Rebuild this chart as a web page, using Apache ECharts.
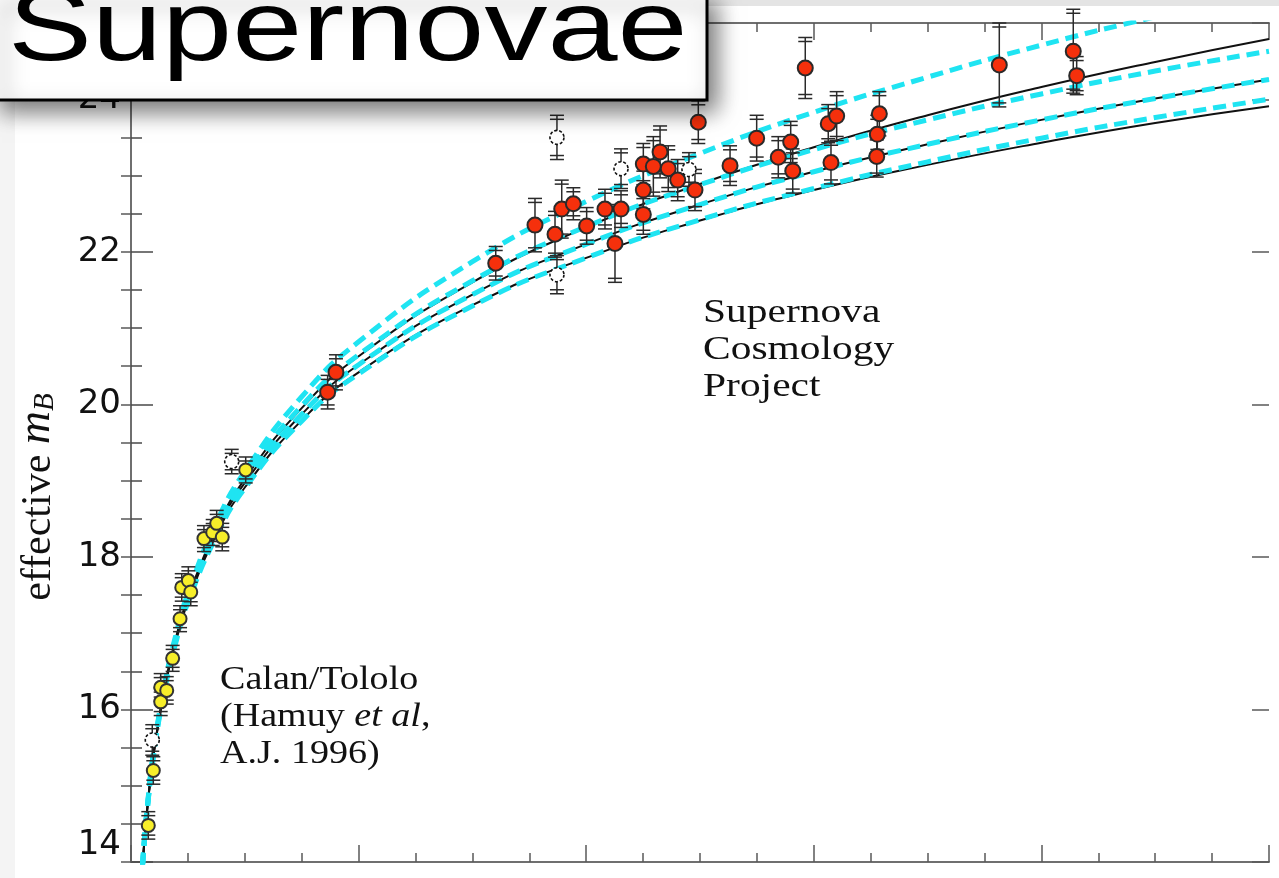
<!DOCTYPE html>
<html>
<head>
<meta charset="utf-8">
<script src="https://cdn.jsdelivr.net/npm/echarts@6/dist/echarts.min.js"></script>
<style>
  html, body { margin: 0; padding: 0; background: #fff; }
  #chart { width: 1279px; height: 878px; }
</style>
</head>
<body>
<div id="chart"></div>
<script>
// Hubble diagram: effective B magnitude against redshift z.

// Calan/Tololo low-redshift supernovae (used in fit)
const ctZ   = [0.0152, 0.0196, 0.0261, 0.0261, 0.0314, 0.0366, 0.0431, 0.0446, 0.0504, 0.0525, 0.0641, 0.0718, 0.0753, 0.0802, 0.1008];
const ctM   = [14.48, 15.20, 16.10, 16.29, 16.25, 16.67, 17.19, 17.60, 17.69, 17.54, 18.24, 18.32, 18.44, 18.26, 19.14];
const ctErr = [0.18, 0.18, 0.18, 0.18, 0.18, 0.17, 0.17, 0.18, 0.18, 0.18, 0.17, 0.17, 0.17, 0.18, 0.17];

// Calan/Tololo supernovae excluded from the fit (open symbols)
const ctOutZ   = [0.0187, 0.0885];
const ctOutM   = [15.60, 19.25];
const ctOutErr = [0.20, 0.16];

// Supernova Cosmology Project high-redshift supernovae
const scpZ = [0.1728, 0.1801, 0.3205, 0.3550, 0.3726, 0.3785, 0.3887, 0.4004, 0.4165, 0.4306,
              0.4253, 0.4502, 0.4502, 0.4502, 0.4590, 0.4649, 0.4721, 0.4804, 0.4956, 0.4985,
              0.5264, 0.5498, 0.5688, 0.5797, 0.5815, 0.5925, 0.6127, 0.6201, 0.6151, 0.6576,
              0.6558, 0.6553, 0.7630, 0.8280, 0.8310];
const scpM = [20.16, 20.42, 21.85, 22.35, 22.23, 22.56, 22.63, 22.34, 22.56, 22.56,
              22.11, 22.49, 22.81, 23.15, 23.12, 23.31, 23.09, 22.94, 22.81, 23.70,
              23.13, 23.49, 23.24, 23.44, 23.06, 24.41, 23.68, 23.78, 23.17, 23.81,
              23.54, 23.25, 24.45, 24.63, 24.31];
const scpErr = [0.22, 0.23, 0.22, 0.35, 0.30, 0.38, 0.21, 0.24, 0.26, 0.24,
                0.51, 0.26, 0.30, 0.27, 0.39, 0.34, 0.30, 0.27, 0.27, 0.28,
                0.26, 0.30, 0.27, 0.27, 0.29, 0.40, 0.25, 0.32, 0.28, 0.29,
                0.25, 0.27, 0.55, 0.55, 0.25];

// SCP supernovae excluded from the fit (open symbols)
const scpOutZ   = [0.3743, 0.3743, 0.4306, 0.4903];
const scpOutM   = [23.50, 21.70, 23.09, 23.08];
const scpOutErr = [0.29, 0.25, 0.26, 0.22];

// Model magnitude curves sampled in redshift
const curveZ = [0.009, 0.011, 0.014, 0.02, 0.03, 0.04, 0.05, 0.075, 0.1, 0.15, 0.2, 0.3, 0.4, 0.5, 0.6, 0.7, 0.8, 0.9, 1.0];
// Lambda = 0 models (black solid): (OmegaM, OmegaL) = (0,0), (1,0), (2,0)
const mOpen00   = [13.69, 14.13, 14.66, 15.44, 16.33, 16.97, 17.46, 18.37, 19.02, 19.95, 20.63, 21.60, 22.32, 22.89, 23.37, 23.79, 24.16, 24.49, 24.79];
const mFlat10   = [13.69, 14.13, 14.65, 15.43, 16.32, 16.95, 17.44, 18.33, 18.97, 19.87, 20.52, 21.44, 22.10, 22.62, 23.05, 23.41, 23.73, 24.01, 24.26];
const mClosed20 = [13.69, 14.12, 14.65, 15.42, 16.30, 16.92, 17.41, 18.29, 18.91, 19.79, 20.42, 21.30, 21.92, 22.41, 22.81, 23.14, 23.43, 23.69, 23.91];
// Flat models (cyan dashed): (0,1), (0.5,0.5), (1,0), (1.5,-0.5)
const mFlat01   = [13.69, 14.15, 14.68, 15.46, 16.36, 17.01, 17.52, 18.45, 19.12, 20.10, 20.82, 21.87, 22.66, 23.29, 23.83, 24.29, 24.71, 25.08, 25.42];
const mFlat55   = [13.69, 14.14, 14.66, 15.45, 16.34, 16.98, 17.48, 18.39, 19.04, 19.98, 20.65, 21.62, 22.33, 22.88, 23.34, 23.73, 24.07, 24.37, 24.63];
const mFlat15   = [13.69, 14.12, 14.64, 15.41, 16.29, 16.91, 17.40, 18.27, 18.90, 19.78, 20.40, 21.29, 21.92, 22.42, 22.83, 23.18, 23.49, 23.76, 24.00];

// Axis ticks
const yMin = 14, yMax = 25, yStep = 2;
const xMin = 0, xMax = 1, xStep = 0.2;

const zip = (xs, ys) => xs.map((x, i) => [x, ys[i]]);
const zip3 = (xs, ys, es) => xs.map((x, i) => [x, ys[i], es[i]]);

const CYAN = '#1fe4f2';
const serif = '"Liberation Serif", "DejaVu Serif", serif';
const sans = '"Liberation Sans", Arial, sans-serif';

function errorBars(params, api) {
  const z = api.value(0), m = api.value(1), e = api.value(2);
  const c = api.coord([z, m]);
  const yt = api.coord([z, m + e])[1];
  const yb = api.coord([z, m - e])[1];
  const hw = 7, gap = 4;
  const st = { stroke: '#2a2a2a', lineWidth: 1.5 };
  const cap = (y) => ({ type: 'line', shape: { x1: c[0] - hw, y1: y, x2: c[0] + hw, y2: y }, style: st });
  return {
    type: 'group',
    children: [
      { type: 'line', shape: { x1: c[0], y1: yt, x2: c[0], y2: yb }, style: st },
      cap(yt), cap(yt + gap), cap(yb), cap(yb - gap)
    ]
  };
}

function errSeries(data) {
  return {
    type: 'custom', renderItem: errorBars, data: data, z: 4, silent: true,
    encode: { x: 0, y: 1 }, clip: false
  };
}

function curve(ms, color, width, dashed, z) {
  return {
    type: 'line', data: zip(curveZ, ms), showSymbol: false, symbol: 'none',
    smooth: 0.5, z: z, silent: true,
    lineStyle: { color: color, width: width, type: dashed ? [13, 7] : 'solid', cap: 'butt' }
  };
}

function xAxisDef(position) {
  return {
    type: 'value', position: position, min: xMin, max: xMax, interval: xStep,
    axisLine: { show: true, onZero: false, lineStyle: { color: '#6f6f6f', width: 2 } },
    axisTick: { show: true, inside: true, length: 17, lineStyle: { color: '#5a5a5a', width: 1.5 } },
    minorTick: { show: true, splitNumber: 4, length: 9, lineStyle: { color: '#5a5a5a', width: 1.5 } },
    axisLabel: { show: false },
    splitLine: { show: false }
  };
}

const chart = echarts.init(document.getElementById('chart'), null, { renderer: 'canvas' });

chart.setOption({
  animation: false,
  backgroundColor: '#ffffff',
  grid: { left: 131, right: 10, top: 23, bottom: 16, containLabel: false },
  xAxis: [xAxisDef('bottom'), xAxisDef('top')],
  yAxis: [
    {
      type: 'value', position: 'left', min: yMin, max: yMax, interval: yStep,
      axisLine: { show: true, lineStyle: { color: '#3c3c3c', width: 2 } },
      axisTick: { show: true, inside: true, length: 22, lineStyle: { color: '#4a4a4a', width: 1.5 } },
      minorTick: { show: true, splitNumber: 4, length: 11, lineStyle: { color: '#4a4a4a', width: 1.5 } },
      axisLabel: {
        show: true, margin: 10, fontSize: 34, color: '#111',
        fontFamily: '"DejaVu Sans", sans-serif',
        verticalAlignMinLabel: 'bottom',
        formatter: (v) => (v % 2 === 0 ? String(v) : '')
      },
      splitLine: { show: false }
    },
    {
      type: 'value', position: 'right', min: yMin, max: yMax, interval: 0.5,
      axisLine: { show: true, lineStyle: { color: '#6f6f6f', width: 2 } },
      axisTick: { show: true, inside: true, length: 10, lineStyle: { color: '#5a5a5a', width: 1.5 } },
      axisLabel: { show: false }, splitLine: { show: false }
    },
    {
      type: 'value', position: 'right', min: yMin, max: yMax, interval: yStep,
      axisLine: { show: false },
      axisTick: { show: true, inside: true, length: 17, lineStyle: { color: '#5a5a5a', width: 1.5 } },
      axisLabel: { show: false }, splitLine: { show: false }
    }
  ],
  series: [
    // Lambda = 0 models, black, beneath the flat models
    curve(mOpen00, '#111', 2, false, 2),
    curve(mFlat10, '#111', 2, false, 2),
    curve(mClosed20, '#111', 2, false, 2),
    // flat models, cyan dashed
    curve(mFlat01, CYAN, 5, true, 3),
    curve(mFlat55, CYAN, 5, true, 3),
    curve(mFlat10, CYAN, 5, true, 3),
    curve(mFlat15, CYAN, 5, true, 3),
    // error bars
    errSeries(zip3(ctZ, ctM, ctErr)),
    errSeries(zip3(ctOutZ, ctOutM, ctOutErr)),
    errSeries(zip3(scpZ, scpM, scpErr)),
    errSeries(zip3(scpOutZ, scpOutM, scpOutErr)),
    // points
    {
      type: 'scatter', data: zip(ctZ, ctM), symbolSize: 13, z: 5, silent: true,
      itemStyle: { color: '#f7ee2a', borderColor: '#333', borderWidth: 2, opacity: 1 }
    },
    {
      type: 'scatter', data: zip(scpZ, scpM), symbolSize: 15, z: 5, silent: true,
      itemStyle: { color: '#f5300c', borderColor: '#2a2a2a', borderWidth: 2, opacity: 1 }
    },
    {
      type: 'scatter', data: zip(ctOutZ, ctOutM).concat(zip(scpOutZ, scpOutM)), symbolSize: 14, z: 5, silent: true,
      itemStyle: { color: '#ffffff', borderColor: '#111', borderWidth: 1.6, borderType: [3, 2], opacity: 1 }
    }
  ],
  graphic: [
    // frame edges
    { type: 'rect', x: 0, y: 0, shape: { width: 1279, height: 6 }, style: { fill: '#e4e4e4' }, z: 1 },
    { type: 'rect', x: 0, y: 100, shape: { width: 15, height: 778 }, style: { fill: '#f4f4f4' }, z: 1 },
    // axis title
    {
      type: 'text', x: 36, y: 497, rotation: Math.PI / 2, z: 10,
      style: {
        text: '{a|effective }{m|m}{b|B}',
        align: 'center', verticalAlign: 'middle',
        fill: '#111',
        rich: {
          a: { fontFamily: serif, fontSize: 42, fill: '#111', verticalAlign: 'bottom', lineHeight: 48 },
          m: { fontFamily: serif, fontSize: 46, fontStyle: 'italic', fill: '#111', verticalAlign: 'bottom', lineHeight: 48 },
          b: { fontFamily: serif, fontSize: 29, fontStyle: 'italic', fill: '#111', verticalAlign: 'bottom', lineHeight: 36 }
        }
      }
    },
    // annotations
    {
      type: 'text', x: 703, y: 295, scaleX: 1.22, z: 10,
      style: {
        text: 'Supernova\nCosmology\nProject',
        fontFamily: serif, fontSize: 34, lineHeight: 37, fill: '#111',
        align: 'left', verticalAlign: 'top'
      }
    },
    {
      type: 'text', x: 220, y: 662, scaleX: 1.12, z: 10,
      style: {
        text: '{r|Calan/Tololo}\n{r|(Hamuy }{i|et al}{r|,}\n{r|A.J. 1996)}',
        align: 'left', verticalAlign: 'top', fill: '#111',
        rich: {
          r: { fontFamily: serif, fontSize: 34, lineHeight: 37, fill: '#111' },
          i: { fontFamily: serif, fontSize: 34, lineHeight: 37, fontStyle: 'italic', fill: '#111' }
        }
      }
    },
    // title box
    {
      type: 'rect', x: -6, y: -6, shape: { width: 713, height: 106 }, z: 100, zlevel: 1,
      style: {
        fill: '#ffffff', stroke: '#000', lineWidth: 3,
        shadowBlur: 22, shadowOffsetX: 8, shadowOffsetY: 10, shadowColor: 'rgba(0,0,0,0.55)'
      }
    },
    {
      type: 'text', x: 8, y: -18, scaleX: 1.26, z: 101, zlevel: 1,
      style: {
        text: 'Supernovae', fontFamily: sans, fontSize: 100, lineHeight: 100,
        fill: '#000', align: 'left', verticalAlign: 'top'
      }
    }
  ]
});
</script>
</body>
</html>
